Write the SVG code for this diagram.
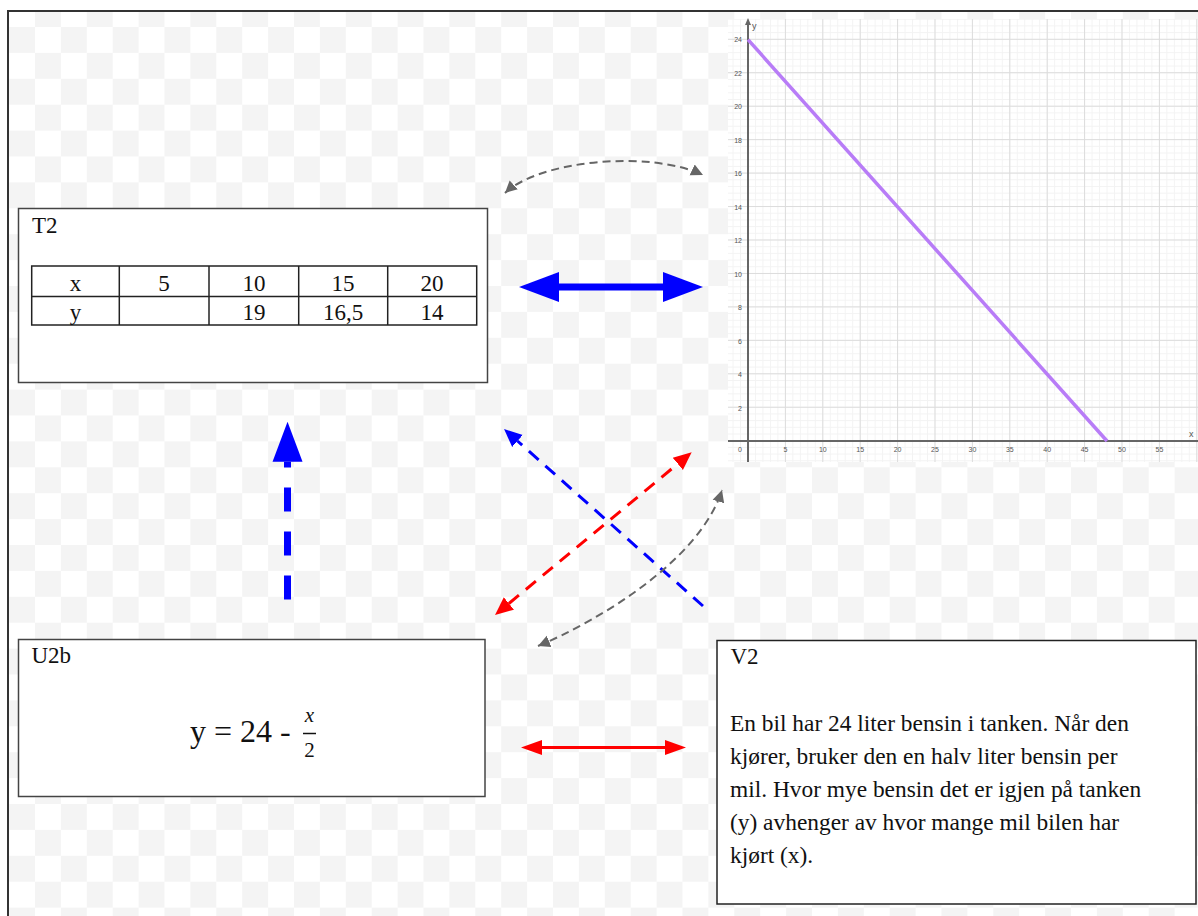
<svg xmlns="http://www.w3.org/2000/svg" width="1198" height="916" viewBox="0 0 1198 916">
<style>
.serif{font-family:"Liberation Serif","Times New Roman",serif;fill:#111}
.box{fill:#fff;stroke:#444;stroke-width:1.5}
.tbl{fill:none;stroke:#222;stroke-width:1.5}
.ax{font-family:"Liberation Sans",Arial,sans-serif;font-size:7px;fill:#555}
.gdash{fill:none;stroke:#666;stroke-width:2;stroke-dasharray:8 5}
</style>
<defs>
<pattern id="checker" patternUnits="userSpaceOnUse" x="9.1" y="1.1" width="51.8" height="51.8">
<rect x="25.9" y="0" width="25.9" height="25.9" fill="#f4f4f4"/>
<rect x="0" y="25.9" width="25.9" height="25.9" fill="#f4f4f4"/>
</pattern>
<pattern id="minor" patternUnits="userSpaceOnUse" x="747.5" y="440.2" width="7.48" height="6.69">
<rect x="0" y="0" width="1" height="6.69" fill="#f3f3f3"/>
<rect x="0" y="0" width="7.48" height="1" fill="#f3f3f3"/>
</pattern>
<pattern id="major" patternUnits="userSpaceOnUse" x="747.5" y="440.2" width="37.4" height="33.45">
<rect x="0" y="0" width="1" height="33.45" fill="#dcdcdc"/>
<rect x="0" y="0" width="37.4" height="1" fill="#dcdcdc"/>
</pattern>
<marker id="bigBlue" markerUnits="userSpaceOnUse" viewBox="0 -16 41 32" refX="0" refY="0" markerWidth="41" markerHeight="32" orient="auto-start-reverse">
<path d="M0,-15 L40,0 L0,15 z" fill="#0000ff"/>
</marker>
<marker id="blueHead" markerUnits="userSpaceOnUse" viewBox="0 -9 19 18" refX="0" refY="0" markerWidth="19" markerHeight="18" orient="auto-start-reverse">
<path d="M0,-8 L18,0 L0,8 z" fill="#0000ff"/>
</marker>
<marker id="redHead" markerUnits="userSpaceOnUse" viewBox="0 -9 19 18" refX="0" refY="0" markerWidth="19" markerHeight="18" orient="auto-start-reverse">
<path d="M0,-8 L18,0 L0,8 z" fill="#ff0000"/>
</marker>
<marker id="redHead2" markerUnits="userSpaceOnUse" viewBox="0 -9 22 18" refX="0" refY="0" markerWidth="22" markerHeight="18" orient="auto-start-reverse">
<path d="M0,-7.5 L21,0 L0,7.5 z" fill="#ff0000"/>
</marker>
<marker id="greyHead" markerUnits="userSpaceOnUse" viewBox="0 -7 13 14" refX="12" refY="0" markerWidth="13" markerHeight="14" orient="auto-start-reverse">
<path d="M0,-6 L12,0 L0,6 z" fill="#666"/>
</marker>
</defs>

<rect x="0" y="0" width="1198" height="916" fill="#fff"/>
<rect x="9" y="12" width="1189" height="904" fill="url(#checker)"/>
<g id="frame" fill="none" stroke="#333" stroke-width="2">
<line x1="7" y1="11" x2="1198" y2="11"/>
<line x1="8" y1="11" x2="8" y2="916"/>
</g>

<g id="graph">
<rect x="728" y="19" width="470" height="443" fill="#fff"/>
<rect x="728" y="19" width="470" height="443" fill="url(#minor)"/>
<rect x="728" y="19" width="470" height="443" fill="url(#major)"/>
<line x1="748" y1="462" x2="748" y2="22" stroke="#666" stroke-width="2"/>
<path d="M745,25 L748,18 L751,25 z" fill="#666"/>
<line x1="728" y1="441" x2="1198" y2="441" stroke="#666" stroke-width="2"/>
<text class="ax" x="752" y="29" style="font-size:9px">y</text>
<text class="ax" x="1189" y="437" style="font-size:9px">x</text>
<g class="ax" text-anchor="end">
<text x="742" y="42">24</text>
<text x="742" y="75.5">22</text>
<text x="742" y="109">20</text>
<text x="742" y="142.5">18</text>
<text x="742" y="176">16</text>
<text x="742" y="209.5">14</text>
<text x="742" y="243">12</text>
<text x="742" y="276.5">10</text>
<text x="742" y="310">8</text>
<text x="742" y="343.5">6</text>
<text x="742" y="377">4</text>
<text x="742" y="410.5">2</text>
</g>
<g class="ax" text-anchor="middle">
<text x="740" y="451.5">0</text>
<text x="785.4" y="451.5">5</text>
<text x="822.8" y="451.5">10</text>
<text x="860.2" y="451.5">15</text>
<text x="897.6" y="451.5">20</text>
<text x="935" y="451.5">25</text>
<text x="972.4" y="451.5">30</text>
<text x="1009.8" y="451.5">35</text>
<text x="1047.2" y="451.5">40</text>
<text x="1084.6" y="451.5">45</text>
<text x="1122" y="451.5">50</text>
<text x="1159.4" y="451.5">55</text>
</g>
<line x1="748" y1="39.6" x2="1107" y2="441" stroke="#b87cf7" stroke-width="3.5"/>
</g>

<g id="T2">
<rect class="box" x="18.5" y="208.5" width="469" height="174"/>
<text class="serif" x="32" y="233" font-size="23">T2</text>
<rect class="tbl" x="31.7" y="266" width="445" height="59"/>
<line class="tbl" x1="31.7" y1="296.5" x2="476.7" y2="296.5"/>
<line class="tbl" x1="119.3" y1="266" x2="119.3" y2="325"/>
<line class="tbl" x1="209" y1="266" x2="209" y2="325"/>
<line class="tbl" x1="298.7" y1="266" x2="298.7" y2="325"/>
<line class="tbl" x1="387.7" y1="266" x2="387.7" y2="325"/>
<g class="serif" font-size="23" text-anchor="middle">
<text x="75.5" y="290.5">x</text>
<text x="164" y="290.5">5</text>
<text x="254" y="290.5">10</text>
<text x="343" y="290.5">15</text>
<text x="432" y="290.5">20</text>
<text x="75.5" y="320">y</text>
<text x="254" y="320">19</text>
<text x="343" y="320">16,5</text>
<text x="432" y="320">14</text>
</g>
</g>

<g id="U2b">
<rect class="box" x="18.5" y="639.5" width="466.5" height="157"/>
<text class="serif" x="31.5" y="663" font-size="23">U2b</text>
<text class="serif" x="190" y="742" font-size="32">y = 24 -</text>
<text class="serif" x="309.5" y="722" font-size="21" font-style="italic" text-anchor="middle">x</text>
<line x1="303" y1="733.5" x2="316" y2="733.5" stroke="#111" stroke-width="1.5"/>
<text class="serif" x="309.5" y="757" font-size="21" text-anchor="middle">2</text>
</g>

<g id="V2">
<rect x="717" y="640.5" width="479" height="263.5" fill="#fff" stroke="#222" stroke-width="1.5"/>
<text class="serif" x="730.5" y="664" font-size="23">V2</text>
<g class="serif" font-size="23.4">
<text x="730" y="731">En bil har 24 liter bensin i tanken. Når den</text>
<text x="730" y="764">kjører, bruker den en halv liter bensin per</text>
<text x="730" y="797">mil. Hvor mye bensin det er igjen på tanken</text>
<text x="730" y="830">(y) avhenger av hvor mange mil bilen har</text>
<text x="730" y="863">kjørt (x).</text>
</g>
</g>

<g id="connectors">
<line x1="559" y1="287" x2="663" y2="287" stroke="#0000ff" stroke-width="7" marker-start="url(#bigBlue)" marker-end="url(#bigBlue)"/>
<line x1="287.5" y1="599.5" x2="287.5" y2="461.7" stroke="#0000ff" stroke-width="7" stroke-dasharray="24 20" marker-end="url(#bigBlue)"/>
<line x1="703" y1="606" x2="517.5" y2="441" stroke="#0000ff" stroke-width="3" stroke-dasharray="13 9" marker-end="url(#blueHead)"/>
<line x1="508.9" y1="603.5" x2="677.8" y2="463.8" stroke="#ff0000" stroke-width="3" stroke-dasharray="13 9" marker-start="url(#redHead)" marker-end="url(#redHead)"/>
<line x1="542" y1="747.5" x2="665" y2="747.5" stroke="#ff0000" stroke-width="3" marker-start="url(#redHead2)" marker-end="url(#redHead2)"/>
<path class="gdash" d="M505,193 C540,160 650,150 703,175" marker-start="url(#greyHead)" marker-end="url(#greyHead)"/>
<path class="gdash" d="M538,646 C600,620 700,560 722,490" marker-start="url(#greyHead)" marker-end="url(#greyHead)"/>
</g>
</svg>
